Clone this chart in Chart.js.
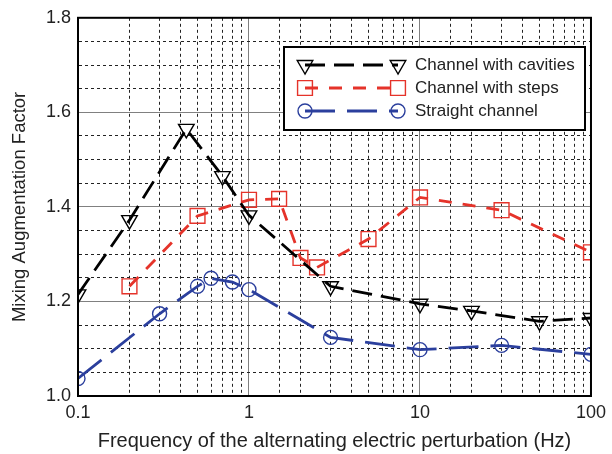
<!DOCTYPE html>
<html>
<head>
<meta charset="utf-8">
<script src="https://cdn.jsdelivr.net/npm/chart.js@4/dist/chart.umd.min.js"></script>
<style>
  html, body { margin: 0; padding: 0; background: #fff; }
  #wrap { width: 612px; height: 454px; position: relative; }
</style>
</head>
<body>
<div id="wrap"><canvas id="c" width="612" height="454"></canvas></div>
<script>
// ---- Data ----
const seriesNames = ["Channel with cavities", "Channel with steps", "Straight channel"];

const cavitiesFreq = [0.1, 0.2, 0.43, 0.7, 1, 3, 10, 20, 50, 100];
const cavitiesVal  = [1.215, 1.372, 1.565, 1.465, 1.382, 1.232, 1.195, 1.18, 1.158, 1.165];

const stepsFreq = [0.2, 0.5, 1, 1.5, 2, 2.5, 5, 10, 30, 100];
const stepsVal  = [1.232, 1.381, 1.415, 1.417, 1.292, 1.272, 1.332, 1.42, 1.393, 1.304];

const straightFreq = [0.1, 0.3, 0.5, 0.6, 0.8, 1, 3, 10, 30, 100];
const straightVal  = [1.037, 1.174, 1.232, 1.249, 1.241, 1.225, 1.124, 1.098, 1.107, 1.088];

const xTickLabels = ["0.1", "1", "10", "100"];
const yTickLabels = ["1.0", "1.2", "1.4", "1.6", "1.8"];

// ---- Styles ----
const FONT = "'Liberation Sans', Arial, Helvetica, sans-serif";
const TEXT = "#222";
const RED = "#e5332a";
const BLUE = "#2b3f9d";

function toPts(xs, ys) { return xs.map((x, i) => ({ x: x, y: ys[i] })); }
function isDecade(v) { const l = Math.log10(v); return Math.abs(l - Math.round(l)) < 1e-6; }
function isYMajor(v) { return Math.abs(v * 5 - Math.round(v * 5)) < 1e-6; }

const datasets = [
  {
    label: seriesNames[0], data: toPts(cavitiesFreq, cavitiesVal),
    borderColor: "#000", borderWidth: 2.8, borderDash: [20, 9],
    pointStyle: "triangle", pointRotation: 180, pointRadius: 9,
    pointBorderColor: "#000", pointBackgroundColor: "rgba(0,0,0,0)", pointBorderWidth: 1.4,
    order: 1
  },
  {
    label: seriesNames[1], data: toPts(stepsFreq, stepsVal),
    borderColor: RED, borderWidth: 2.8, borderDash: [13, 11],
    pointStyle: "rect", pointRadius: 10.5,
    pointBorderColor: RED, pointBackgroundColor: "rgba(0,0,0,0)", pointBorderWidth: 1.4,
    order: 2
  },
  {
    label: seriesNames[2], data: toPts(straightFreq, straightVal),
    borderColor: BLUE, borderWidth: 2.8, borderDash: [30, 12],
    pointStyle: "circle", pointRadius: 7,
    pointBorderColor: BLUE, pointBackgroundColor: "rgba(0,0,0,0)", pointBorderWidth: 1.4,
    order: 3
  }
];
datasets.forEach(d => { d.tension = 0; d.fill = false; d.clip = 0; d.pointHoverRadius = d.pointRadius; });

const framePlugin = {
  id: "frameAndLegend",
  afterDraw(chart) {
    const ctx = chart.ctx;
    const a = chart.chartArea;
    ctx.save();
    // frame
    ctx.strokeStyle = "#000";
    ctx.lineWidth = 2;
    ctx.setLineDash([]);
    ctx.strokeRect(a.left, a.top, a.right - a.left, a.bottom - a.top);

    // legend box
    const lx = 284, ly = 47, lw = 301, lh = 83;
    ctx.fillStyle = "#fff";
    ctx.fillRect(lx, ly, lw, lh);
    ctx.strokeRect(lx, ly, lw, lh);
    const x1 = 305, x2 = 398;
    chart.data.datasets.forEach((ds, i) => {
      const y = 65 + i * 23;
      ctx.save();
      ctx.beginPath();
      ctx.strokeStyle = ds.borderColor;
      ctx.lineWidth = ds.borderWidth;
      ctx.setLineDash(ds.borderDash);
      ctx.moveTo(x1, y);
      ctx.lineTo(x2, y);
      ctx.stroke();
      ctx.restore();
      const popt = {
        pointStyle: ds.pointStyle, rotation: ds.pointRotation || 0, radius: ds.pointRadius,
        borderWidth: ds.pointBorderWidth
      };
      ctx.save();
      ctx.setLineDash([]);
      ctx.strokeStyle = ds.pointBorderColor;
      ctx.fillStyle = "rgba(0,0,0,0)";
      ctx.lineWidth = ds.pointBorderWidth;
      Chart.helpers.drawPoint(ctx, popt, x1, y);
      Chart.helpers.drawPoint(ctx, popt, x2, y);
      ctx.restore();
      ctx.fillStyle = TEXT;
      ctx.font = "17px " + FONT;
      ctx.textBaseline = "middle";
      ctx.textAlign = "left";
      ctx.fillText(ds.label, 415, y);
    });
    ctx.restore();
  }
};

new Chart(document.getElementById("c"), {
  type: "line",
  data: { datasets: datasets },
  plugins: [framePlugin],
  options: {
    responsive: false,
    animation: false,
    events: [],
    layout: { padding: { left: 0, right: 14, top: 16, bottom: 0 } },
    plugins: { legend: { display: false }, tooltip: { enabled: false }, title: { display: false } },
    scales: {
      x: {
        type: "logarithmic", min: 0.1, max: 100,
        afterFit(s) { s.height = 58; },
        ticks: {
          autoSkip: false, maxRotation: 0, padding: 6, color: TEXT,
          font: { family: FONT, size: 18 },
          callback(v) {
            if (!isDecade(v)) return "";
            const idx = Math.round(Math.log10(v)) + 1;
            return xTickLabels[idx];
          }
        },
        grid: {
          drawTicks: false, lineWidth: 1,
          color: c => (c.tick && isDecade(c.tick.value)) ? "#808080" : "#222"
        },
        border: {
          display: true, color: "#000", width: 2,
          dash: c => (c.tick && !isDecade(c.tick.value)) ? [3, 3] : []
        },
        title: {
          display: true, text: "Frequency of the alternating electric perturbation (Hz)",
          color: TEXT, font: { family: FONT, size: 20 }, padding: { top: 0, bottom: 1 }
        }
      },
      y: {
        type: "linear", min: 1.0, max: 1.8,
        afterFit(s) { s.width = 78; },
        ticks: {
          stepSize: 0.05, autoSkip: false, padding: 7, color: TEXT,
          font: { family: FONT, size: 18 },
          callback(v) {
            if (!isYMajor(v)) return "";
            return yTickLabels[Math.round((v - 1) * 5)];
          }
        },
        grid: {
          drawTicks: false, lineWidth: 1,
          color: c => (c.tick && isYMajor(c.tick.value)) ? "#808080" : "#222"
        },
        border: {
          display: true, color: "#000", width: 2,
          dash: c => (c.tick && !isYMajor(c.tick.value)) ? [3, 3] : []
        },
        title: {
          display: true, text: "Mixing Augmentation Factor",
          color: TEXT, font: { family: FONT, size: 18.5 }, padding: { top: 9, bottom: 0 }
        }
      }
    }
  }
});
</script>
</body>
</html>
